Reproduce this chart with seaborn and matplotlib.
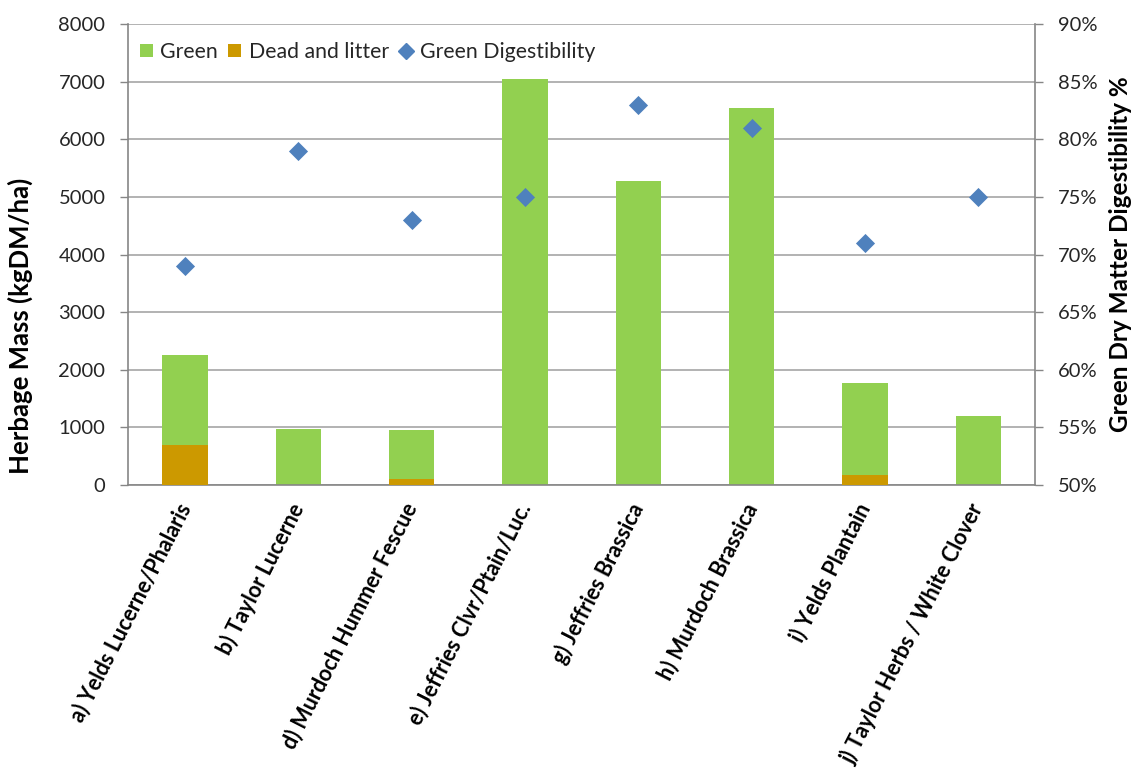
import numpy as np
import pandas as pd
import matplotlib
matplotlib.use("Agg")
import matplotlib.pyplot as plt
from matplotlib.patches import Patch
from matplotlib.lines import Line2D
from matplotlib.ticker import FixedLocator, FuncFormatter
import seaborn as sns

# Pasture sites
sites = [
    "a) Yelds Lucerne/Phalaris",
    "b) Taylor Lucerne",
    "d) Murdoch Hummer Fescue",
    "e) Jeffries Clvr/Ptain/Luc.",
    "g) Jeffries Brassica",
    "h) Murdoch Brassica",
    "i) Yelds Plantain",
    "j) Taylor Herbs / White Clover",
]
# Herbage mass components (kg DM/ha)
green_mass = [1560, 975, 860, 7050, 5280, 6550, 1590, 1200]
dead_mass = [700, 0, 100, 0, 0, 0, 180, 0]
# Green dry matter digestibility (%)
digestibility = [69, 79, 73, 75, 83, 81, 71, 75]

GREEN = "#92D050"
DEAD = "#CC9900"
BLUE = "#4F81BD"
GRID = "#A6A6A6"
AXIS = "#868686"
TEXT = "#262626"

sns.set_theme(style="white")
plt.rcParams["font.family"] = ["Lato", "DejaVu Sans"]

df = pd.DataFrame({
    "site": sites,
    "green": green_mass,
    "dead": dead_mass,
    "digest": digestibility,
})
df["total"] = df["green"] + df["dead"]
df["pos"] = np.arange(len(df))

fig = plt.figure(figsize=(11.39, 7.74), dpi=100)
ax = fig.add_axes([0.1127, 0.3734, 0.796, 0.5952])

# Stacked bars: full height in green, dead and litter overlaid at the base
sns.barplot(data=df, x="site", y="total", color=GREEN, width=0.40,
            saturation=1, ax=ax, zorder=2)
sns.barplot(data=df, x="site", y="dead", color=DEAD, width=0.40,
            saturation=1, ax=ax, zorder=3)
for p in ax.patches:
    p.set_edgecolor("none")

ax.set_ylim(0, 8000)
ax.set_xlim(-0.5, len(sites) - 0.5)
ax.yaxis.set_major_locator(FixedLocator(np.arange(0, 8001, 1000)))
ax.yaxis.grid(True, color=GRID, linewidth=1.2, zorder=0)
ax.set_axisbelow(True)

ax.set_xlabel("")
ax.set_ylabel("Herbage Mass (kgDM/ha)", fontsize=18.5, fontweight="bold",
              color="black")
ax.yaxis.set_label_coords(-0.105, 0.345)
ax.tick_params(axis="y", labelsize=14.5, colors=TEXT, length=6, width=1,
               color=AXIS, direction="out", pad=10.5)
ax.set_xticks(df["pos"])
ax.set_xticklabels(sites, rotation=63, ha="right", va="center",
                   rotation_mode="anchor", fontsize=15.5, fontweight="bold",
                   color="black")
ax.tick_params(axis="x", length=0, pad=14)
ax.set_xticks(np.arange(-0.5, len(sites), 1.0), minor=True)
ax.tick_params(axis="x", which="minor", length=7, width=1, color=AXIS,
               direction="out")

for side in ["left", "right", "bottom"]:
    ax.spines[side].set_visible(True)
    ax.spines[side].set_color(AXIS)
    ax.spines[side].set_linewidth(1.2)
ax.spines["top"].set_visible(False)

# Secondary axis: digestibility markers
ax2 = ax.twinx()
sns.scatterplot(data=df, x="pos", y="digest", marker="D", s=95,
                color=BLUE, edgecolor=BLUE, linewidth=0, ax=ax2, zorder=4,
                legend=False)
ax2.set_xlim(-0.5, len(sites) - 0.5)
ax2.set_ylim(50, 90)
ax2.yaxis.set_major_locator(FixedLocator(np.arange(50, 91, 5)))
ax2.yaxis.set_major_formatter(FuncFormatter(lambda v, _: f"{v:.0f}%"))
ax2.set_ylabel("Green Dry Matter Digestibility %", fontsize=17.5,
               fontweight="bold", color="black", labelpad=8)
ax2.tick_params(axis="y", labelsize=14.5, colors=TEXT, length=6, width=1,
                color=AXIS, direction="out", pad=10.5)
ax2.set_xlabel("")
ax2.tick_params(axis="x", which="both", length=0, labelbottom=False)
for side in ["left", "right", "bottom", "top"]:
    ax2.spines[side].set_visible(False)

handles = [
    Patch(facecolor=GREEN, edgecolor="none", label="Green"),
    Patch(facecolor=DEAD, edgecolor="none", label="Dead and litter"),
    Line2D([], [], marker="D", linestyle="none", color=BLUE,
           markersize=8, label="Green Digestibility"),
]
ax2.legend(handles=handles, loc="upper left", ncol=3, frameon=False,
           fontsize=15.3, handlelength=0.6, handleheight=0.6,
           handletextpad=0.35, columnspacing=0.5,
           bbox_to_anchor=(-0.006, 0.998), borderaxespad=0.4)

fig.savefig("out.png", dpi=100)
